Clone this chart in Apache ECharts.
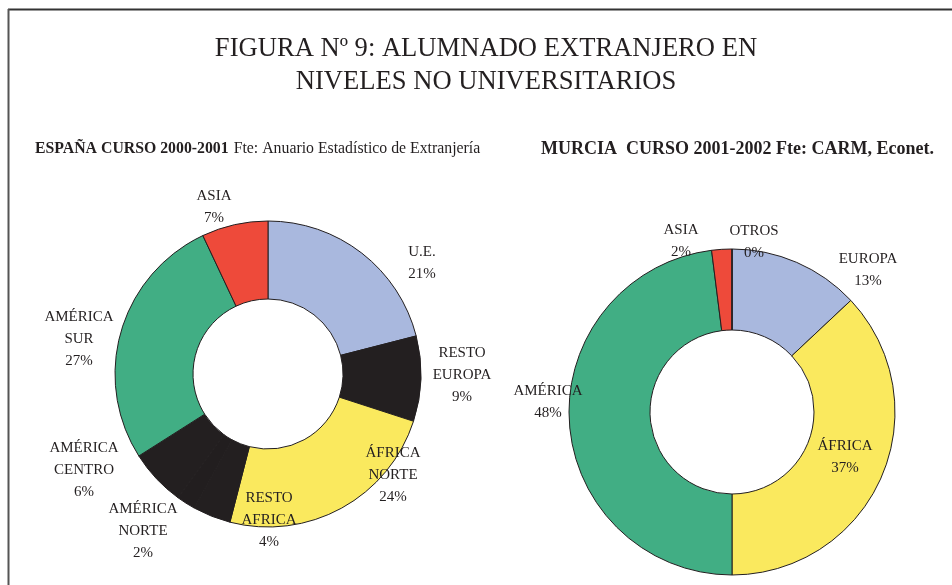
<!DOCTYPE html>
<html>
<head>
<meta charset="utf-8">
<title>Alumnado extranjero</title>
<script src="https://cdn.jsdelivr.net/npm/echarts@6/dist/echarts.min.js"></script>
<style>
  html, body { margin: 0; padding: 0; background: #fff; }
  #main { width: 952px; height: 585px; }
</style>
</head>
<body>
<div id="main"></div>
<script>
// España curso 2000-2001
var espanaNames = ['U.E.', 'RESTO EUROPA', 'ÁFRICA NORTE', 'RESTO AFRICA', 'AMÉRICA NORTE', 'AMÉRICA CENTRO', 'AMÉRICA SUR', 'ASIA'];
var espanaValues = [21, 9, 24, 4, 2, 6, 27, 7];
// Murcia curso 2001-2002
var murciaNames = ['EUROPA', 'ÁFRICA', 'AMÉRICA', 'ASIA', 'OTROS'];
var murciaValues = [13, 37, 48, 2, 0];

// colores y posiciones de etiquetas (centro del texto)
var espanaColors = ['#A9B8DE', '#231F20', '#FAE95E', '#231F20', '#221E1F', '#231F20', '#41AE84', '#EE4A3A'];
var murciaColors = ['#A9B8DE', '#FAE95E', '#41AE84', '#EE4A3A', '#9E9E9E'];
var espanaLabelPos = [[422, 263], [462, 375], [393, 475], [269, 520], [143, 531], [84, 470], [79, 339], [214, 207]];
var murciaLabelPos = [[868, 270], [845, 457], [548, 402], [681, 241], [754, 242]];

var textColor = '#231F20';
var serif = '"Liberation Serif", "Times New Roman", serif';

function toData(names, values, colors) {
  return names.map(function (n, i) {
    return { name: n, value: values[i], itemStyle: { color: colors[i] } };
  });
}

function pieSeries(names, values, colors, labelPos, center, radius) {
  return {
    type: 'pie',
    center: center,
    radius: radius,
    startAngle: 90,
    clockwise: true,
    avoidLabelOverlap: false,
    animation: false,
    silent: true,
    itemStyle: { borderColor: '#231F20', borderWidth: 1 },
    label: {
      show: true,
      position: 'outside',
      color: textColor,
      fontFamily: serif,
      fontSize: 15,
      lineHeight: 22,
      align: 'center',
      formatter: function (p) {
        return p.name.replace(' ', '\n') + '\n' + p.value + '%';
      }
    },
    labelLine: { show: false },
    labelLayout: function (p) {
      var pos = labelPos[p.dataIndex];
      return { x: pos[0], y: pos[1], align: 'center', verticalAlign: 'middle' };
    },
    emphasis: { disabled: true },
    data: toData(names, values, colors)
  };
}

var chart = echarts.init(document.getElementById('main'));
chart.setOption({
  backgroundColor: '#fff',
  title: [
    {
      text: 'FIGURA Nº 9: ALUMNADO EXTRANJERO EN\nNIVELES NO UNIVERSITARIOS',
      left: 481,
      top: 28,
      textAlign: 'center',
      textStyle: { fontFamily: serif, fontSize: 26.6, fontWeight: 'normal', lineHeight: 33, color: textColor }
    },
    {
      text: '{b|ESPAÑA CURSO 2000-2001} {n|Fte: Anuario Estadístico de Extranjería}',
      left: 30,
      top: 135,
      textStyle: {
        rich: {
          b: { fontFamily: serif, fontSize: 15.8, fontWeight: 'bold', color: textColor },
          n: { fontFamily: serif, fontSize: 15.8, fontWeight: 'normal', color: textColor }
        }
      }
    },
    {
      text: 'MURCIA  CURSO 2001-2002 Fte: CARM, Econet.',
      left: 536,
      top: 135,
      textStyle: { fontFamily: serif, fontSize: 18, fontWeight: 'bold', color: textColor }
    }
  ],
  graphic: [
    { type: 'line', shape: { x1: 8, y1: 9.5, x2: 952, y2: 9.5 }, style: { stroke: '#333', lineWidth: 2 } },
    { type: 'line', shape: { x1: 8.5, y1: 9, x2: 8.5, y2: 585 }, style: { stroke: '#555', lineWidth: 2 } }
  ],
  series: [
    pieSeries(espanaNames, espanaValues, espanaColors, espanaLabelPos, [268, 374], [75, 153]),
    pieSeries(murciaNames, murciaValues, murciaColors, murciaLabelPos, [732, 412], [82, 163])
  ]
});
</script>
</body>
</html>
